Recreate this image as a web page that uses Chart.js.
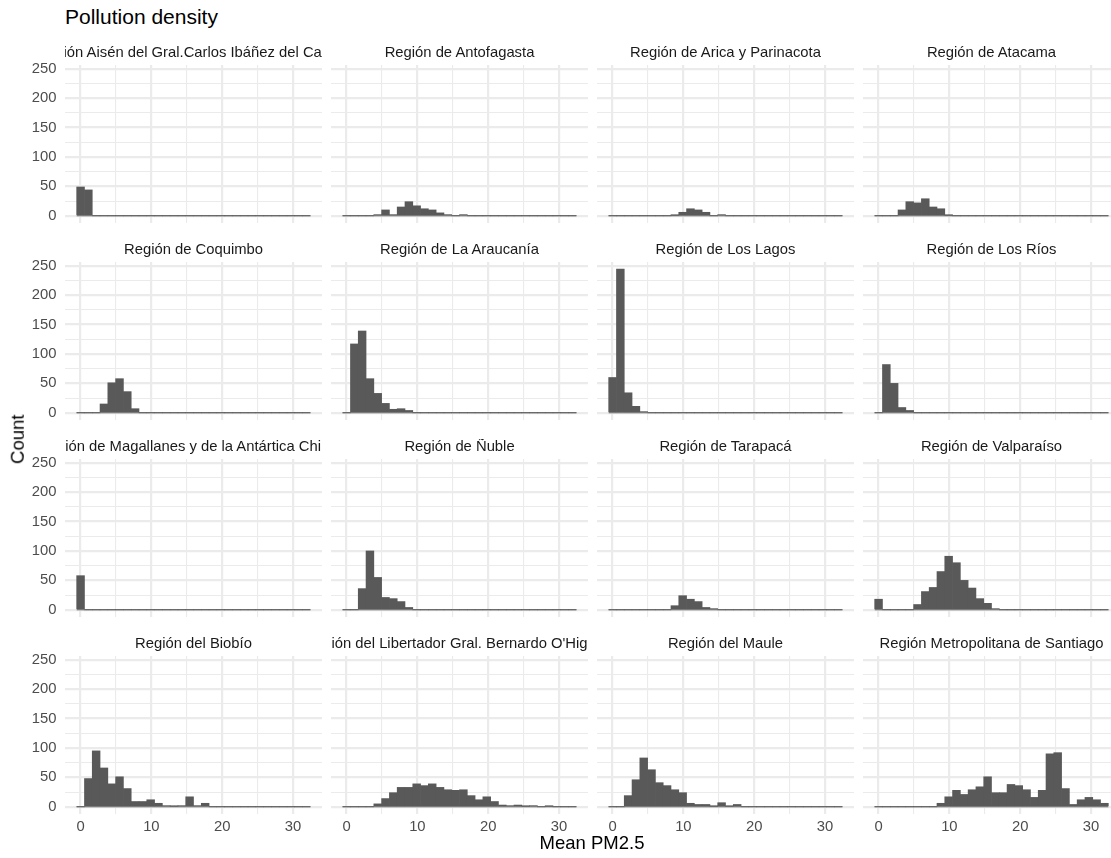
<!DOCTYPE html>
<html>
<head>
<meta charset="utf-8">
<script src="https://cdn.jsdelivr.net/npm/chart.js@4.4.1/dist/chart.umd.min.js"></script>
<style>
  html, body { margin: 0; padding: 0; background: #ffffff; }
  body { width: 1111px; height: 858px; overflow: hidden; position: relative;
         font-family: "Liberation Sans", Arial, Helvetica, sans-serif; }
  .panel { position: absolute; }
  .panel canvas { display: block; }
  .txt { position: absolute; white-space: nowrap; line-height: 1; z-index: 5; }
  .strip { position: absolute; display: flex; justify-content: center; overflow: hidden;
           white-space: nowrap; line-height: 1; font-size: 14.8px; color: #1a1a1a; z-index: 5; }
  .strip span { flex: none; }
</style>
</head>
<body>
<div id="title" class="txt" style="left:65px; top:6px; font-size:21px; color:#000;">Pollution density</div>
<div id="xtitle" class="txt" style="left:442px; width:300px; text-align:center; top:834px; font-size:18.5px; color:#000;">Mean PM2.5</div>
<div id="ytitle" class="txt" style="left:-82px; width:200px; text-align:center; top:430px; height:18.5px; font-size:18.5px; color:#000; transform:rotate(-90deg);">Count</div>

<script>
// ---------------- DATA ----------------
const regions = [
  "Región Aisén del Gral.Carlos Ibáñez del Campo",
  "Región de Antofagasta",
  "Región de Arica y Parinacota",
  "Región de Atacama",
  "Región de Coquimbo",
  "Región de La Araucanía",
  "Región de Los Lagos",
  "Región de Los Ríos",
  "Región de Magallanes y de la Antártica Chilena",
  "Región de Ñuble",
  "Región de Tarapacá",
  "Región de Valparaíso",
  "Región del Biobío",
  "Región del Libertador Gral. Bernardo O'Higgins",
  "Región del Maule",
  "Región Metropolitana de Santiago"
];

// histogram bin centres (Mean PM2.5), 30 bins
const binCenters = [0, 1.1, 2.2, 3.3, 4.4, 5.5, 6.6, 7.7, 8.8, 9.9,
                    11.0, 12.1, 13.2, 14.3, 15.4, 16.5, 17.6, 18.7, 19.8, 20.9,
                    22.0, 23.1, 24.2, 25.3, 26.4, 27.5, 28.6, 29.7, 30.8, 31.9];

const countsAisen       = [49,44,0,0,0,0,0,0,0,0, 0,0,0,0,0,0,0,0,0,0, 0,0,0,0,0,0,0,0,0,0];
const countsAntofagasta = [0,0,0,0,2,10,2,15,24,17, 12,10,5,2,0,2,0,0,0,0, 0,0,0,0,0,0,0,0,0,0];
const countsArica       = [0,0,0,0,0,0,0,0,1,6, 12,10,6,0,2,0,0,0,0,0, 0,0,0,0,0,0,0,0,0,0];
const countsAtacama     = [0,0,0,10,24,22,29,15,12,1, 0,0,0,0,0,0,0,0,0,0, 0,0,0,0,0,0,0,0,0,0];
const countsCoquimbo    = [0,0,0,15,51,58,36,7,0,0, 0,0,0,0,0,0,0,0,0,0, 0,0,0,0,0,0,0,0,0,0];
const countsAraucania   = [0,117,139,58,33,16,6,7,4,0, 0,0,0,0,0,0,0,0,0,0, 0,0,0,0,0,0,0,0,0,0];
const countsLosLagos    = [60,244,34,11,2,0,0,0,0,0, 0,0,0,0,0,0,0,0,0,0, 0,0,0,0,0,0,0,0,0,0];
const countsLosRios     = [0,82,50,9,4,0,0,0,0,0, 0,0,0,0,0,0,0,0,0,0, 0,0,0,0,0,0,0,0,0,0];
const countsMagallanes  = [58,0,0,0,0,0,0,0,0,0, 0,0,0,0,0,0,0,0,0,0, 0,0,0,0,0,0,0,0,0,0];
const countsNuble       = [0,0,36,100,55,21,19,14,4,0, 0,0,0,0,0,0,0,0,0,0, 0,0,0,0,0,0,0,0,0,0];
const countsTarapaca    = [0,0,0,0,0,0,0,0,7,24, 18,14,4,2,0,0,0,0,0,0, 0,0,0,0,0,0,0,0,0,0];
const countsValparaiso  = [18,0,0,0,0,9,31,38,65,91, 80,50,37,19,11,2,0,0,0,0, 0,0,0,0,0,0,0,0,0,0];
const countsBiobio      = [0,48,95,66,39,51,31,9,9,12, 6,2,1,2,17,2,6,0,0,0, 0,0,0,0,0,0,0,0,0,0];
const countsLibertador  = [0,0,0,0,5,14,24,33,33,39, 36,39,33,29,28,29,19,12,17,9, 3,2,3,1,2,0,1,0,0,0];
const countsMaule       = [0,0,19,46,83,63,41,36,29,24, 6,4,4,1,7,1,4,0,0,0, 0,0,0,0,0,0,0,0,0,0];
const countsMetro       = [0,0,0,0,0,0,0,0,6,17, 28,21,29,34,51,24,24,38,36,29, 16,28,90,92,31,4,12,16,12,6];

const allCounts = [countsAisen, countsAntofagasta, countsArica, countsAtacama,
                   countsCoquimbo, countsAraucania, countsLosLagos, countsLosRios,
                   countsMagallanes, countsNuble, countsTarapaca, countsValparaiso,
                   countsBiobio, countsLibertador, countsMaule, countsMetro];

// axis ticks (major labelled + minor grid)
const xGridTicks  = [0, 5, 10, 15, 20, 25, 30];
const xTickLabels = [0, 10, 20, 30];
const yGridTicks  = [0, 25, 50, 75, 100, 125, 150, 175, 200, 225, 250];
const yTickLabels = [0, 50, 100, 150, 200, 250];

// ---------------- LAYOUT ----------------
const NCOL = 4, NROW = 4;
const PANEL_W = 257, PANEL_H = 158;
const COL_LEFT = [65, 331, 597, 863];
const ROW_TOP  = [65, 262, 459, 656];
const AX_L = 50, AX_B = 30, AX_T = 12;
const FONT = '"Liberation Sans", Arial, Helvetica, sans-serif';
const GRID = '#ebebeb';
const BAR = '#595959';

// ggplot-like scale ranges (5% expansion)
const halfBin = (binCenters[1] - binCenters[0]) / 2;
const xLo = binCenters[0] - halfBin, xHi = binCenters[binCenters.length - 1] + halfBin;
const xPad = 0.05 * (xHi - xLo);
const yMaxData = Math.max(...allCounts.map(a => Math.max(...a)));
const yPad = 0.05 * yMaxData;

function zeroFit(scale) {
  scale.paddingTop = 0; scale.paddingBottom = 0;
  scale.paddingLeft = 0; scale.paddingRight = 0;
}

regions.forEach((name, i) => {
  const col = i % NCOL, row = Math.floor(i / NCOL);
  const isLeft = col === 0, isBottom = row === NROW - 1;

  const wrap = document.createElement('div');
  wrap.className = 'panel';
  wrap.style.left = (COL_LEFT[col] - AX_L) + 'px';
  wrap.style.top = (ROW_TOP[row] - AX_T) + 'px';
  wrap.style.width = (PANEL_W + AX_L) + 'px';
  wrap.style.height = (PANEL_H + AX_B + AX_T) + 'px';
  const cv = document.createElement('canvas');
  wrap.appendChild(cv);
  document.body.appendChild(wrap);

  const strip = document.createElement('div');
  strip.className = 'strip';
  strip.style.left = COL_LEFT[col] + 'px';
  strip.style.width = PANEL_W + 'px';
  strip.style.top = (ROW_TOP[row] - 20.5) + 'px';
  strip.style.height = '16px';
  const sp = document.createElement('span');
  sp.textContent = name;
  strip.appendChild(sp);
  document.body.appendChild(strip);

  const counts = allCounts[i];
  new Chart(cv, {
    data: {
      datasets: [
        {
          type: 'line',
          data: [{ x: xLo, y: 0 }, { x: xHi, y: 0 }],
          borderColor: BAR, borderWidth: 1.1, pointRadius: 0, tension: 0, order: 2
        },
        {
          type: 'bar',
          data: counts.map((c, k) => ({ x: binCenters[k], y: c })),
          backgroundColor: BAR, borderWidth: 0,
          barPercentage: 1.0, categoryPercentage: 1.0, grouped: false, order: 1
        }
      ]
    },
    options: {
      responsive: true, maintainAspectRatio: false, animation: false,
      devicePixelRatio: 1, events: [],
      layout: { padding: { top: AX_T, left: 0, right: 0, bottom: 0 }, autoPadding: false },
      plugins: { legend: { display: false }, tooltip: { enabled: false }, title: { display: false } },
      scales: {
        x: {
          type: 'linear', min: xLo - xPad, max: xHi + xPad, offset: false,
          afterBuildTicks: s => { s.ticks = xGridTicks.map(v => ({ value: v })); },
          afterFit: s => { s.height = AX_B; zeroFit(s); },
          grid: {
            offset: false, drawTicks: false, color: GRID,
            lineWidth: c => (c.tick && xTickLabels.includes(c.tick.value)) ? 2.2 : 1.1
          },
          border: { display: false },
          ticks: {
            display: isBottom, autoSkip: false, maxRotation: 0, padding: 4,
            color: '#4d4d4d', font: { family: FONT, size: 14.8 },
            callback: v => xTickLabels.includes(v) ? String(v) : ''
          }
        },
        y: {
          type: 'linear', min: -yPad, max: yMaxData + yPad,
          afterBuildTicks: s => { s.ticks = yGridTicks.map(v => ({ value: v })); },
          afterFit: s => { s.width = AX_L; zeroFit(s); },
          grid: {
            drawTicks: false, color: GRID,
            lineWidth: c => (c.tick && yTickLabels.includes(c.tick.value)) ? 2.2 : 1.1
          },
          border: { display: false },
          ticks: {
            display: isLeft, autoSkip: false, padding: 8.5,
            color: '#4d4d4d', font: { family: FONT, size: 14.8 },
            callback: v => yTickLabels.includes(v) ? String(v) : ''
          }
        }
      }
    }
  });
});
</script>
</body>
</html>
